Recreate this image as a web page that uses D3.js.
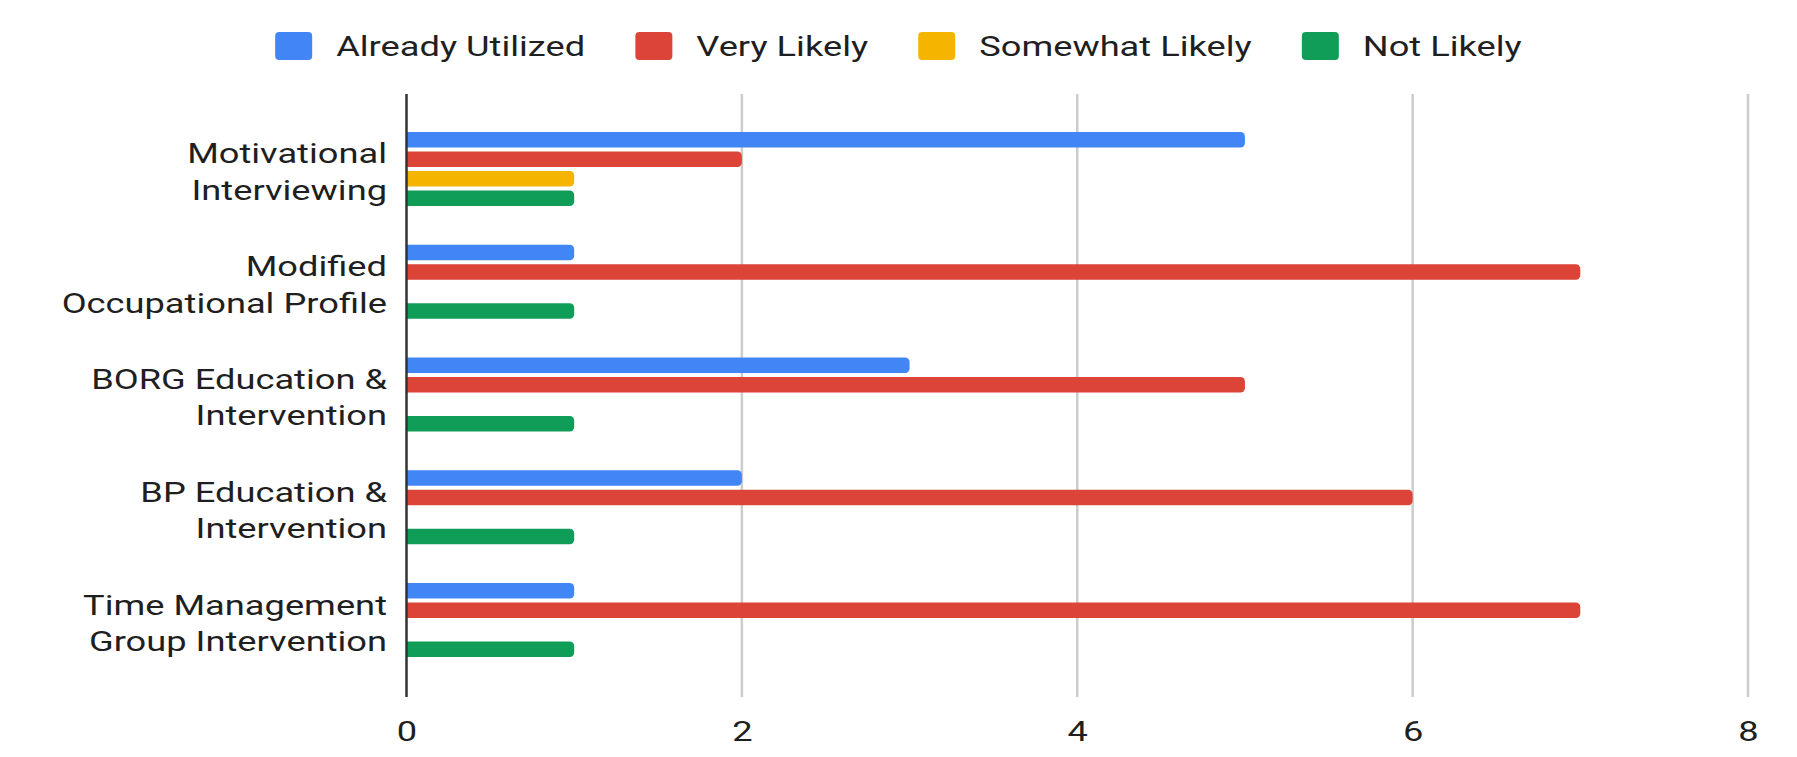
<!DOCTYPE html>
<html>
<head>
<meta charset="utf-8">
<script src="https://cdn.jsdelivr.net/npm/d3@7/dist/d3.min.js"></script>
<style>
  body { margin: 0; background: #fff; }
  text { font-family: Roboto, sans-serif; fill: #1f1f1f; }
</style>
</head>
<body>
<div id="canvas"></div>
<script>
"use strict"

// chart data
let categories = [
    ["Motivational", "Interviewing"],
    ["Modified", "Occupational Profile"],
    ["BORG Education &", "Intervention"],
    ["BP Education &", "Intervention"],
    ["Time Management", "Group Intervention"]
];
let seriesNames = ["Already Utilized", "Very Likely", "Somewhat Likely", "Not Likely"];
let seriesColors = ["#4285f4", "#db4437", "#f4b400", "#0f9d58"];
let alreadyUtilized = [5, 1, 3, 2, 1];
let veryLikely = [2, 7, 5, 6, 7];
let somewhatLikely = [1, 0, 0, 0, 0];
let notLikely = [1, 1, 1, 1, 1];
let xTicks = [0, 2, 4, 6, 8];

let seriesValues = [alreadyUtilized, veryLikely, somewhatLikely, notLikely];

// the picture is stretched sideways, so text gets stretched the same way
const SX = 1.295;
const width = 1797, height = 757;

let drawing = d3.select("#canvas")
    .append("svg")
    .attr("width", width)
    .attr("height", height);

let x = d3.scaleLinear()
    .domain([0, 8])
    .range([406.5, 1748]);

let y = d3.scaleBand()
    .domain(d3.range(categories.length))
    .range([112.6, 676.4])
    .paddingInner(0.308)
    .paddingOuter(0.154);

let ySeries = d3.scaleBand()
    .domain(d3.range(seriesNames.length))
    .range([0, y.bandwidth()])
    .paddingInner(0.2)
    .paddingOuter(0.1);

let plotTop = 94, plotBottom = 697;

// grid lines
drawing.append("g")
    .selectAll("line")
    .data(xTicks.filter(d => d > 0))
    .join("line")
    .attr("x1", d => x(d))
    .attr("x2", d => x(d))
    .attr("y1", plotTop)
    .attr("y2", plotBottom)
    .attr("stroke", "#cccccc")
    .attr("stroke-width", 2.5);

// bars, rounded on the right end only
function barPath(x0, y0, w, h, r) {
    r = Math.min(r, w);
    return "M" + x0 + "," + y0 +
        "H" + (x0 + w - r) +
        "A" + r + "," + r + " 0 0 1 " + (x0 + w) + "," + (y0 + r) +
        "V" + (y0 + h - r) +
        "A" + r + "," + r + " 0 0 1 " + (x0 + w - r) + "," + (y0 + h) +
        "H" + x0 + "Z";
}

let bars = [];
categories.forEach((c, i) => {
    seriesValues.forEach((vals, s) => {
        if (vals[i] > 0) bars.push({ cat: i, s: s, v: vals[i] });
    });
});

drawing.append("g")
    .selectAll("path")
    .data(bars)
    .join("path")
    .attr("d", d => barPath(x(0), y(d.cat) + ySeries(d.s), x(d.v) - x(0), ySeries.bandwidth(), 4.5))
    .attr("fill", d => seriesColors[d.s]);

// zero axis line on top of the bars
drawing.append("line")
    .attr("x1", x(0))
    .attr("x2", x(0))
    .attr("y1", plotTop)
    .attr("y2", plotBottom)
    .attr("stroke", "#333333")
    .attr("stroke-width", 2.5);

// bottom tick labels
let xAxis = drawing.append("g")
    .attr("transform", "translate(0,741)")
    .call(d3.axisBottom(x).tickValues(xTicks).tickSize(0).tickPadding(0));
xAxis.select(".domain").remove();
xAxis.selectAll("text")
    .attr("y", 0)
    .attr("dy", 0)
    .attr("transform", "scale(" + SX + ",1)")
    .style("font-size", "28px")
    .style("font-family", "Roboto, sans-serif")
    .attr("fill", "#1f1f1f");

// category labels, two lines each
let yLabels = drawing.append("g")
    .selectAll("text")
    .data(categories)
    .join("text")
    .attr("text-anchor", "end")
    .attr("font-size", 28)
    .attr("transform", (d, i) => "translate(387," + (y(i) + y.bandwidth() / 2 - 5.5) + ") scale(" + SX + ",1)");

yLabels.selectAll("tspan")
    .data(d => d)
    .join("tspan")
    .attr("x", 0)
    .attr("y", (d, j) => j * 36.5)
    .text(d => d);

// legend, centered
let legend = drawing.append("g");
let items = legend.selectAll("g")
    .data(seriesNames)
    .join("g");

items.append("rect")
    .attr("width", 37)
    .attr("height", 28)
    .attr("y", 32)
    .attr("rx", 4)
    .attr("fill", (d, i) => seriesColors[i]);

items.append("text")
    .attr("font-size", 28)
    .text(d => d);

let widths = [];
items.select("text").each(function () { widths.push(this.getComputedTextLength() * SX); });

let swatchW = 37, swatchGap = 24, itemGap = 50;
let total = d3.sum(widths) + seriesNames.length * (swatchW + swatchGap) + (seriesNames.length - 1) * itemGap;
let cursor = (width - total) / 2;
items.each(function (d, i) {
    let g = d3.select(this);
    g.select("rect").attr("x", cursor);
    g.select("text").attr("transform", "translate(" + (cursor + swatchW + swatchGap) + ",56) scale(" + SX + ",1)");
    cursor += swatchW + swatchGap + widths[i] + itemGap;
});
</script>
</body>
</html>
